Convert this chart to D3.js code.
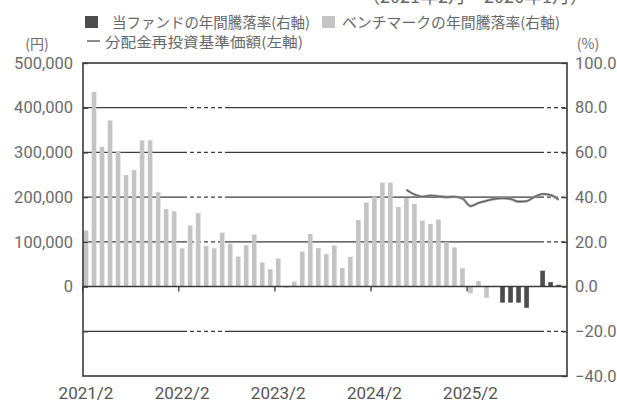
<!DOCTYPE html>
<html><head><meta charset="utf-8">
<script src="https://cdn.jsdelivr.net/npm/d3@7"></script>
<style>
html,body{margin:0;padding:0;background:#fff;overflow:hidden;}
svg{display:block;}
</style></head>
<body><svg id="c" width="617" height="403"></svg>
<script>
const months = ["2021/2","2021/3","2021/4","2021/5","2021/6","2021/7","2021/8","2021/9","2021/10","2021/11","2021/12","2022/1",
"2022/2","2022/3","2022/4","2022/5","2022/6","2022/7","2022/8","2022/9","2022/10","2022/11","2022/12","2023/1",
"2023/2","2023/3","2023/4","2023/5","2023/6","2023/7","2023/8","2023/9","2023/10","2023/11","2023/12","2024/1",
"2024/2","2024/3","2024/4","2024/5","2024/6","2024/7","2024/8","2024/9","2024/10","2024/11","2024/12","2025/1",
"2025/2","2025/3","2025/4","2025/5","2025/6","2025/7","2025/8","2025/9","2025/10","2025/11","2025/12","2026/1"];
const benchReturn = [25.1,87.1,62.5,74.3,60.6,49.9,52.1,65.4,65.4,42.2,34.7,33.7,
17.1,27.3,32.9,18.2,17.1,24.1,19.2,13.4,18.5,23.3,10.8,7.8,
12.6,-0.5,2.2,15.7,23.5,17.2,14.5,18.4,8.3,13.3,29.8,37.6,
40.2,46.5,46.5,35.6,39.6,37.0,29.5,28.0,30.0,20.0,17.5,8.2,
-3.0,2.5,-5.0,null,null,null,null,null,null,null,null,null];
const fundReturn = [null,null,null,null,null,null,null,null,null,null,null,null,
null,null,null,null,null,null,null,null,null,null,null,null,
null,null,null,null,null,null,null,null,null,null,null,null,
null,null,null,null,null,null,null,null,null,null,null,null,
null,null,null,null,-7.2,-7.2,-7.2,-9.5,null,7.1,2.0,0.8];
const navReinvested = [null,null,null,null,null,null,null,null,null,null,null,null,
null,null,null,null,null,null,null,null,null,null,null,null,
null,null,null,null,null,null,null,null,null,null,null,null,
null,null,null,null,216500,206000,201000,203500,202000,200000,201000,197000,
180000,187000,192000,196000,197500,196000,190000,191000,200500,207000,205000,194000];
const xTickLabels = ["2021/2","2022/2","2023/2","2024/2","2025/2"];
const leftTicks = [0,100000,200000,300000,400000,500000];
const rightTicks = [100,80,60,40,20,0,-20,-40];

const svg = d3.select("#c");
const L = 83, R = 567, T = 63, B = 376;
const x = d3.scaleBand().domain(months).range([82, 82 + 60*8.01]).paddingInner(0.42).paddingOuter(0.21);
const yP = d3.scaleLinear().domain([-40,100]).range([B,T]);
const yY = d3.scaleLinear().domain([-200000,500000]).range([B,T]);
const gridCol = "#3a3a3a", txtCol = "#6b6b6b";
const jp = "'Noto Sans CJK JP', sans-serif";
const num = "Roboto, 'DejaVu Sans', sans-serif";

// top cut text
svg.append("text").attr("x",362).attr("y",3).attr("font-family",jp).attr("font-size",18)
  .attr("fill","#666").text("（2021年2月～2026年1月）");

// legend
svg.append("rect").attr("x",85).attr("y",16).attr("width",13).attr("height",12).attr("fill","#4d4d4d");
svg.append("text").attr("x",112).attr("y",28).attr("font-family",jp).attr("font-size",14.5)
  .attr("fill","#666").attr("textLength",198).attr("lengthAdjust","spacingAndGlyphs").text("当ファンドの年間騰落率(右軸)");
svg.append("rect").attr("x",322).attr("y",16).attr("width",13).attr("height",12).attr("fill","#c4c4c4");
svg.append("text").attr("x",342).attr("y",28).attr("font-family",jp).attr("font-size",14.5)
  .attr("fill","#666").attr("textLength",218).attr("lengthAdjust","spacingAndGlyphs").text("ベンチマークの年間騰落率(右軸)");
svg.append("line").attr("x1",87).attr("x2",100).attr("y1",41).attr("y2",41).attr("stroke","#666").attr("stroke-width",1.5);
svg.append("text").attr("x",105).attr("y",47).attr("font-family",jp).attr("font-size",14)
  .attr("fill","#666").attr("textLength",198).attr("lengthAdjust","spacingAndGlyphs").text("分配金再投資基準価額(左軸)");
svg.append("text").attr("x",37).attr("y",49).attr("text-anchor","middle").attr("font-family",jp).attr("font-size",14)
  .attr("fill",txtCol).text("(円)");
svg.append("text").attr("x",588).attr("y",49).attr("text-anchor","middle").attr("font-family",jp).attr("font-size",14)
  .attr("fill",txtCol).text("(%)");

// gridlines with dashed segments
const grid = svg.append("g");
[80,60,40,20,-20].forEach(v=>{
  const yy = yP(v);
  const segs = [[L,183,null],[183,228,"4,3"],[228,540,null],[540,R,"4,3"]];
  segs.forEach(s=>{
    grid.append("line").attr("x1",s[0]).attr("x2",s[1]).attr("y1",yy).attr("y2",yy)
      .attr("stroke",gridCol).attr("stroke-width",1.3).attr("stroke-dasharray",s[2]);
  });
});

// bars
const bw = x.bandwidth();
svg.append("g").selectAll("rect").data(months.map((m,i)=>({m,v:benchReturn[i]})).filter(d=>d.v!==null))
  .join("rect").attr("x",d=>x(d.m)).attr("width",bw)
  .attr("y",d=>yP(Math.max(0,d.v))).attr("height",d=>Math.abs(yP(d.v)-yP(0)))
  .attr("fill","#c4c4c4");
svg.append("g").selectAll("rect").data(months.map((m,i)=>({m,v:fundReturn[i]})).filter(d=>d.v!==null))
  .join("rect").attr("x",d=>x(d.m)).attr("width",bw)
  .attr("y",d=>yP(Math.max(0,d.v))).attr("height",d=>Math.abs(yP(d.v)-yP(0)))
  .attr("fill","#4d4d4d");

// zero line
svg.append("line").attr("x1",L).attr("x2",R).attr("y1",yP(0)).attr("y2",yP(0)).attr("stroke",gridCol).attr("stroke-width",1.4);

// x ticks
xTickLabels.forEach(lb=>{
  const xx = x(lb) - 1;
  svg.append("line").attr("x1",xx).attr("x2",xx).attr("y1",yP(0)).attr("y2",yP(0)+5).attr("stroke",gridCol).attr("stroke-width",1.3);
});

// line
const line = d3.line().defined(d=>d.v!==null).x(d=>x(d.m)+bw/2).y(d=>yY(d.v)).curve(d3.curveMonotoneX);
const ld = months.map((m,i)=>({m,v:navReinvested[i]}));
svg.append("path").datum(ld).attr("d",line).attr("fill","none").attr("stroke","#9a9a9a").attr("stroke-width",2.6);
svg.append("path").datum(ld).attr("d",line).attr("fill","none").attr("stroke","#555").attr("stroke-width",1);

// frame
svg.append("rect").attr("x",L).attr("y",T).attr("width",R-L).attr("height",B-T).attr("fill","none").attr("stroke",gridCol).attr("stroke-width",1.6);

// left axis
const la = d3.axisLeft(yY).tickValues(leftTicks.concat([-100000])).tickSize(-5).tickPadding(10)
  .tickFormat(d=> d<0 ? "" : d3.format(",")(d));
const lg = svg.append("g").attr("transform",`translate(${L},0)`).call(la);
lg.select(".domain").remove();
lg.selectAll("line").attr("stroke",gridCol).attr("stroke-width",1.3);
lg.selectAll("text").attr("font-family",num).attr("font-size",16.5).attr("fill",txtCol);

// right axis
const ra = d3.axisRight(yP).tickValues(rightTicks).tickSize(-5).tickPadding(8).tickFormat(d3.format(".1f"));
const rg = svg.append("g").attr("transform",`translate(${R},0)`).call(ra);
rg.select(".domain").remove();
rg.selectAll("line").attr("stroke",gridCol).attr("stroke-width",1.3);
rg.selectAll("text").attr("font-family",num).attr("font-size",16.5).attr("fill",txtCol);

// x labels
svg.append("g").selectAll("text").data(xTickLabels).join("text")
  .attr("x",d=>x(d)+bw/2).attr("y",399).attr("text-anchor","middle")
  .attr("font-family",num).attr("font-size",17).attr("fill","#555").text(d=>d);
</script></body></html>
